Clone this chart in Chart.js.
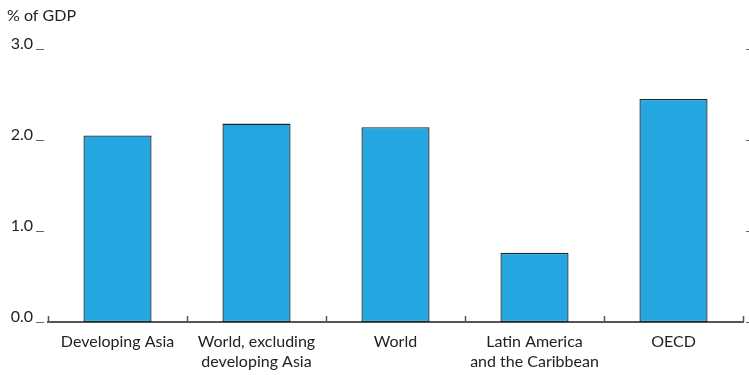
<!DOCTYPE html>
<html>
<head>
<meta charset="utf-8">
<script src="https://cdn.jsdelivr.net/npm/chart.js@4.4.1/dist/chart.umd.min.js"></script>
<style>
  html, body { margin: 0; padding: 0; background: #fff; }
  #wrap { width: 749px; height: 375px; position: relative; }
</style>
</head>
<body>
<div id="wrap"><canvas id="chart" width="749" height="375"></canvas></div>
<script>
// Chart data
var categories = [
  "Developing Asia",
  ["World, excluding", "developing Asia"],
  "World",
  ["Latin America", "and the Caribbean"],
  "OECD"
];
var shareOfGdp = [2.05, 2.18, 2.14, 0.76, 2.45];
var yTicks = [0, 1, 2, 3];
var unitLabel = "% of GDP";

var fontFamily = "Lato, 'Open Sans', sans-serif";

// draws the unit label, the small left/right tick marks and the category ticks
var extras = {
  id: 'extras',
  afterDraw: function(chart) {
    var ctx = chart.ctx;
    var x = chart.scales.x, y = chart.scales.y;
    ctx.save();
    ctx.fillStyle = '#222';
    ctx.font = '16px ' + fontFamily;
    ctx.textBaseline = 'middle';
    ctx.fillText(unitLabel, 7, 16);

    ctx.strokeStyle = '#666';
    ctx.lineWidth = 1;
    yTicks.forEach(function(v) {
      var py = Math.round(y.getPixelForValue(v)) + 0.5;
      ctx.beginPath();
      ctx.moveTo(36, py);
      ctx.lineTo(44, py);
      ctx.stroke();
      ctx.beginPath();
      ctx.moveTo(746, py);
      ctx.lineTo(749, py);
      ctx.stroke();
    });

    var step = (x.right - x.left) / categories.length;
    ctx.strokeStyle = '#555';
    ctx.lineWidth = 1.5;
    for (var i = 0; i <= categories.length; i++) {
      var px = Math.round(x.left + i * step) + 0.5;
      ctx.beginPath();
      ctx.moveTo(px, y.bottom - 6);
      ctx.lineTo(px, y.bottom);
      ctx.stroke();
    }
    ctx.restore();
  }
};

new Chart(document.getElementById('chart').getContext('2d'), {
  type: 'bar',
  data: {
    labels: categories,
    datasets: [{
      data: shareOfGdp,
      backgroundColor: '#24A7E0',
      borderColor: '#1f2429',
      borderWidth: 1.3,
      borderSkipped: false,
      barPercentage: 0.49,
      categoryPercentage: 1
    }]
  },
  options: {
    responsive: false,
    animation: false,
    layout: { padding: { top: 49, right: 6, left: 0, bottom: 0 } },
    plugins: { legend: { display: false }, tooltip: { enabled: false } },
    scales: {
      x: {
        afterFit: function(s) { s.height = 53; },
        grid: { display: false, drawTicks: false },
        border: { display: true, color: '#555', width: 2 },
        ticks: {
          color: '#222',
          padding: 9,
          font: { family: fontFamily, size: 16, lineHeight: 1.3 }
        }
      },
      y: {
        min: 0,
        max: 3,
        afterFit: function(s) { s.width = 48; },
        afterBuildTicks: function(s) { s.ticks = yTicks.map(function(v) { return { value: v }; }); },
        grid: { display: false, drawTicks: false },
        border: { display: false },
        ticks: {
          color: '#222',
          padding: 15,
          labelOffset: -5,
          font: { family: fontFamily, size: 16 },
          callback: function(v) { return v.toFixed(1); }
        }
      }
    }
  },
  plugins: [extras]
});
</script>
</body>
</html>
